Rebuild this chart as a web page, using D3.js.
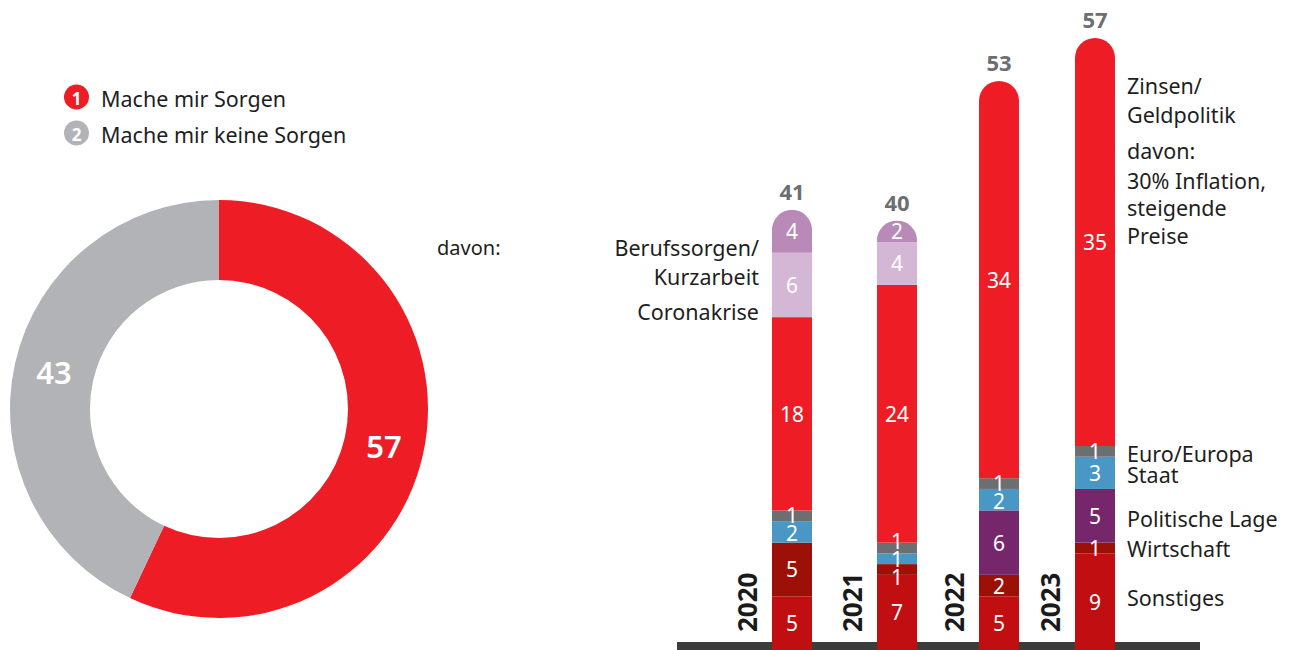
<!DOCTYPE html>
<html>
<head>
<meta charset="utf-8">
<script src="https://cdn.jsdelivr.net/npm/d3@7"></script>
<style>
  body { margin: 0; background: #fff; }
  svg { font-family: "Noto Sans", "Open Sans", sans-serif; }
</style>
</head>
<body>
<script>
// donut
var donutLabels = ["Mache mir Sorgen", "Mache mir keine Sorgen"];
var donutValues = [57, 43];
var donutColors = ["#ee1c25", "#b2b3b6"];

// bars, von unten nach oben
var years = ["2020", "2021", "2022", "2023"];
var totals = [41, 40, 53, 57];
var categories = ["Sonstiges", "Wirtschaft", "Politische Lage", "Staat", "Euro/Europa",
                  "Zinsen/Geldpolitik", "Coronakrise", "Berufssorgen/Kurzarbeit"];
var sonstiges      = [5, 7, 5, 9];
var wirtschaft     = [5, 1, 2, 1];
var politischeLage = [0, 0, 6, 5];
var staat          = [2, 1, 2, 3];
var euroEuropa     = [1, 1, 1, 1];
var zinsen         = [18, 24, 34, 35];
var coronakrise    = [6, 4, 0, 0];
var berufssorgen   = [4, 2, 0, 0];
var catColors = ["#c10e10", "#9c1008", "#76276b", "#4897c4", "#6d6e72",
                 "#ee1c25", "#d4b7d5", "#b98ab7"];

var series = [sonstiges, wirtschaft, politischeLage, staat, euroEuropa, zinsen, coronakrise, berufssorgen];

var W = 1297, H = 650;
var svg = d3.select("body").append("svg")
   .attr("width", W)
   .attr("height", H);

// ---- legend
var legend = svg.append("g");
donutLabels.forEach(function(d, i) {
  var ly = 97 + i * 36;
  legend.append("circle").attr("cx", 76.5).attr("cy", ly).attr("r", 12.5).attr("fill", donutColors[i]);
  legend.append("text").attr("x", 76.5).attr("y", ly + 1)
    .attr("text-anchor", "middle").attr("dominant-baseline", "central")
    .style("font-size", "17px").style("font-weight", "bold").style("fill", "#fff")
    .text(i + 1);
  legend.append("text").attr("x", 101).attr("y", ly + 1)
    .attr("dominant-baseline", "central")
    .style("font-size", "21.5px").style("fill", "#1e1e1e")
    .text(d);
});

// ---- donut
var pie = d3.pie().sort(null);
var arc = d3.arc().innerRadius(129).outerRadius(209);
var donut = svg.append("g").attr("transform", "translate(219,409)");
var arcs = pie(donutValues);
donut.selectAll("path").data(arcs).enter().append("path")
   .attr("d", arc)
   .attr("fill", function(d, i) { return donutColors[i]; });
donut.selectAll("text").data(arcs).enter().append("text")
   .attr("x", function(d) { return arc.centroid(d)[0]; })
   .attr("y", function(d) { return arc.centroid(d)[1]; })
   .attr("text-anchor", "middle").attr("dominant-baseline", "central")
   .style("font-size", "31px").style("font-weight", "600").style("fill", "#fff")
   .text(function(d) { return d.data; });

svg.append("text").attr("x", 437).attr("y", 247)
   .attr("dominant-baseline", "central")
   .style("font-size", "20px").style("fill", "#1e1e1e")
   .text("davon:");

// ---- bars
var x = d3.scaleOrdinal().domain(years).range([792, 897, 999, 1095]);
var y = d3.scaleLinear().domain([0, 57]).range([650, 38]);
var bw = 40;

// rote Säule füllt bis zur Gesamthöhe auf (wie im Original)
var rows = years.map(function(yr, i) {
  var row = { year: yr };
  categories.forEach(function(c, k) { row[c] = series[k][i]; });
  var others = 0;
  categories.forEach(function(c, k) { if (k != 5) others += series[k][i]; });
  row[categories[5]] = totals[i] - others;
  return row;
});
var stacked = d3.stack().keys(categories)(rows);

svg.append("rect")
   .attr("x", 677).attr("y", 642).attr("width", 1200 - 677).attr("height", 10)
   .attr("fill", "#3c3c3c");

var defs = svg.append("defs");
years.forEach(function(yr, i) {
  defs.append("clipPath").attr("id", "clip" + i)
    .append("rect")
    .attr("x", x(yr) - bw / 2).attr("y", y(totals[i]))
    .attr("width", bw).attr("height", y(0) - y(totals[i]) + 40)
    .attr("rx", bw / 2).attr("ry", bw / 2);
});

var barG = svg.append("g");
years.forEach(function(yr, i) {
  var g = barG.append("g").attr("clip-path", "url(#clip" + i + ")");
  stacked.forEach(function(s, k) {
    var d = s[i];
    if (d[1] - d[0] <= 0) return;
    g.append("rect")
      .attr("x", x(yr) - bw / 2).attr("width", bw)
      .attr("y", y(d[1])).attr("height", y(d[0]) - y(d[1]) + (k == 0 ? 5 : 0))
      .attr("fill", catColors[k]);
  });
});

// Zahlen in den Segmenten, kleine Segmente auseinanderschieben
years.forEach(function(yr, i) {
  var labs = [];
  stacked.forEach(function(s, k) {
    var d = s[i];
    if (d[1] - d[0] <= 0) return;
    labs.push({ v: series[k][i], pos: y((d[0] + d[1]) / 2) });
  });
  for (var it = 0; it < 20; it++) {
    for (var j = 0; j < labs.length - 1; j++) {
      var gap = labs[j].pos - labs[j + 1].pos;
      if (gap < 18) {
        var push = (18 - gap) / 2;
        labs[j].pos += push;
        labs[j + 1].pos -= push;
      }
    }
  }
  labs.forEach(function(l) {
    barG.append("text")
      .attr("x", x(yr)).attr("y", l.pos)
      .attr("text-anchor", "middle").attr("dominant-baseline", "central")
      .style("font-size", "21px").style("fill", "#fff")
      .text(l.v);
  });
});

// Summen
svg.selectAll(".total").data(years).enter().append("text")
   .attr("class", "total")
   .attr("x", function(d) { return x(d); })
   .attr("y", function(d, i) { return y(totals[i]) - 19; })
   .attr("text-anchor", "middle").attr("dominant-baseline", "central")
   .style("font-size", "22px").style("font-weight", "bold").style("fill", "#6d6e71")
   .text(function(d, i) { return totals[i]; });

// Jahre
svg.selectAll(".year").data(years).enter().append("text")
   .attr("class", "year")
   .attr("transform", function(d) { return "translate(" + (x(d) - bw / 2 - 25) + ",632) rotate(-90)"; })
   .attr("dominant-baseline", "central")
   .style("font-size", "26px").style("font-weight", "bold").style("fill", "#1a1a1a")
   .text(function(d) { return d; });

// Beschriftung rechts (2023)
var last = years.length - 1;
var lx = x(years[last]) + bw / 2 + 12;
[0, 1, 2, 3, 4].forEach(function(k) {
  var d = stacked[k][last];
  var off = [-4, 0, 3, 2, 2][k];
  svg.append("text")
    .attr("x", lx).attr("y", y((d[0] + d[1]) / 2) + off)
    .attr("dominant-baseline", "central")
    .style("font-size", "21.5px").style("fill", "#1e1e1e")
    .text(categories[k]);
});
var zinsLines = ["Zinsen/", "Geldpolitik", "davon:", "30% Inflation,", "steigende", "Preise"];
var zinsOff = [47, 76, 112, 142, 169, 197];
zinsLines.forEach(function(t, j) {
  svg.append("text")
    .attr("x", lx).attr("y", y(totals[last]) + zinsOff[j])
    .attr("dominant-baseline", "central")
    .style("font-size", "21.5px").style("fill", "#1e1e1e")
    .text(t);
});

// Beschriftung links (2020)
var leftLines = ["Berufssorgen/", "Kurzarbeit", "Coronakrise"];
var leftOff = [38, 67, 102];
leftLines.forEach(function(t, j) {
  svg.append("text")
    .attr("x", x(years[0]) - bw / 2 - 13).attr("y", y(totals[0]) + leftOff[j])
    .attr("text-anchor", "end").attr("dominant-baseline", "central")
    .style("font-size", "21.5px").style("fill", "#1e1e1e")
    .text(t);
});
</script>
</body>
</html>
